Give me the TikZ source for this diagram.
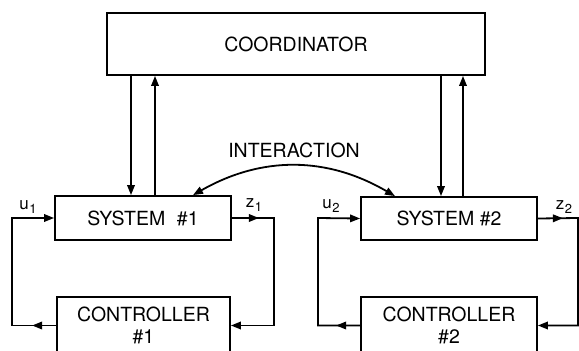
\documentclass[tikz,border=0pt]{standalone}
\usepackage{fontspec}
\setmainfont{TeX Gyre Heros}
\usetikzlibrary{arrows.meta,decorations.markings}
\newcommand{\sigl}[2]{#1\kern0.5pt\raisebox{-0.45ex}{\fontsize{13}{14}\selectfont #2}}

\begin{document}
\begin{tikzpicture}[x=1pt,y=-1pt,line width=1.8pt,>={Triangle[length=10pt,width=7.5pt]},
  blk/.style={draw,inner sep=0pt,font=\fontsize{19.5}{22}\selectfont,align=center},
  lbl/.style={inner sep=0pt,font=\fontsize{17}{18}\selectfont},
  midarr/.style={postaction={decorate},
    decoration={markings,mark=at position #1 with {\arrow{>}}}}]
\useasboundingbox (0,0) rectangle (579,351);
\clip (0,0) rectangle (579,351);
% blocks
\node[blk,minimum width=378pt,minimum height=62pt] (coord) at (296,44) {COORDINATOR};
\node[blk,minimum width=176pt,minimum height=44pt] (sys1) at (143,218) {SYSTEM\hspace{0.6em}\#1};
\node[blk,minimum width=176pt,minimum height=43pt] (sys2) at (449,218.5) {SYSTEM \#2};
\node[blk,minimum width=173pt,minimum height=57pt] (ctrl1) at (143.5,325.5) {CONTROLLER\\\#1};
\node[blk,minimum width=176pt,minimum height=57pt] (ctrl2) at (449,325.5) {CONTROLLER\\\#2};
% coordinator links
\coordinate (d1) at ([xshift=-12pt]sys1.north);
\coordinate (a1) at ([xshift=12pt]sys1.north);
\coordinate (d2) at ([xshift=-8pt]sys2.north);
\coordinate (a2) at ([xshift=14pt]sys2.north);
\draw[->] (coord.south -| d1) -- (d1);
\draw[->] (a1) -- (coord.south -| a1);
\draw[->] (coord.south -| d2) -- (d2);
\draw[->] (a2) -- (coord.south -| a2);
% interaction
\node[font=\fontsize{19.5}{22}\selectfont] (inter) at (294,150) {INTERACTION};
\draw[<->] ([xshift=50pt]sys1.north) to[bend left=30] ([xshift=-54pt]sys2.north);
% feedback loops
\coordinate (wl1) at (12,218);
\coordinate (wr1) at (274,218);
\coordinate (wl2) at (318,218);
\coordinate (wr2) at (578,218);
\draw[->,midarr=24pt] (ctrl1.west) -| (wl1) -- (sys1.west);
\draw[->,midarr=27pt] (sys1.east) -- (wr1) |- (ctrl1.east);
\draw[->,midarr=24pt] (ctrl2.west) -| (wl2) -- (sys2.west);
\draw[->,midarr=25pt] (sys2.east) -- (wr2) |- (ctrl2.east);
% signal labels
\node[lbl] (u1) at (28,207) {\sigl{u}{1}};
\node[lbl] (z1) at (254,205) {\sigl{z}{1}};
\node[lbl] (u2) at (331,206) {\sigl{u}{2}};
\node[lbl] (z2) at (564,207) {\sigl{z}{2}};
\end{tikzpicture}
\end{document}
